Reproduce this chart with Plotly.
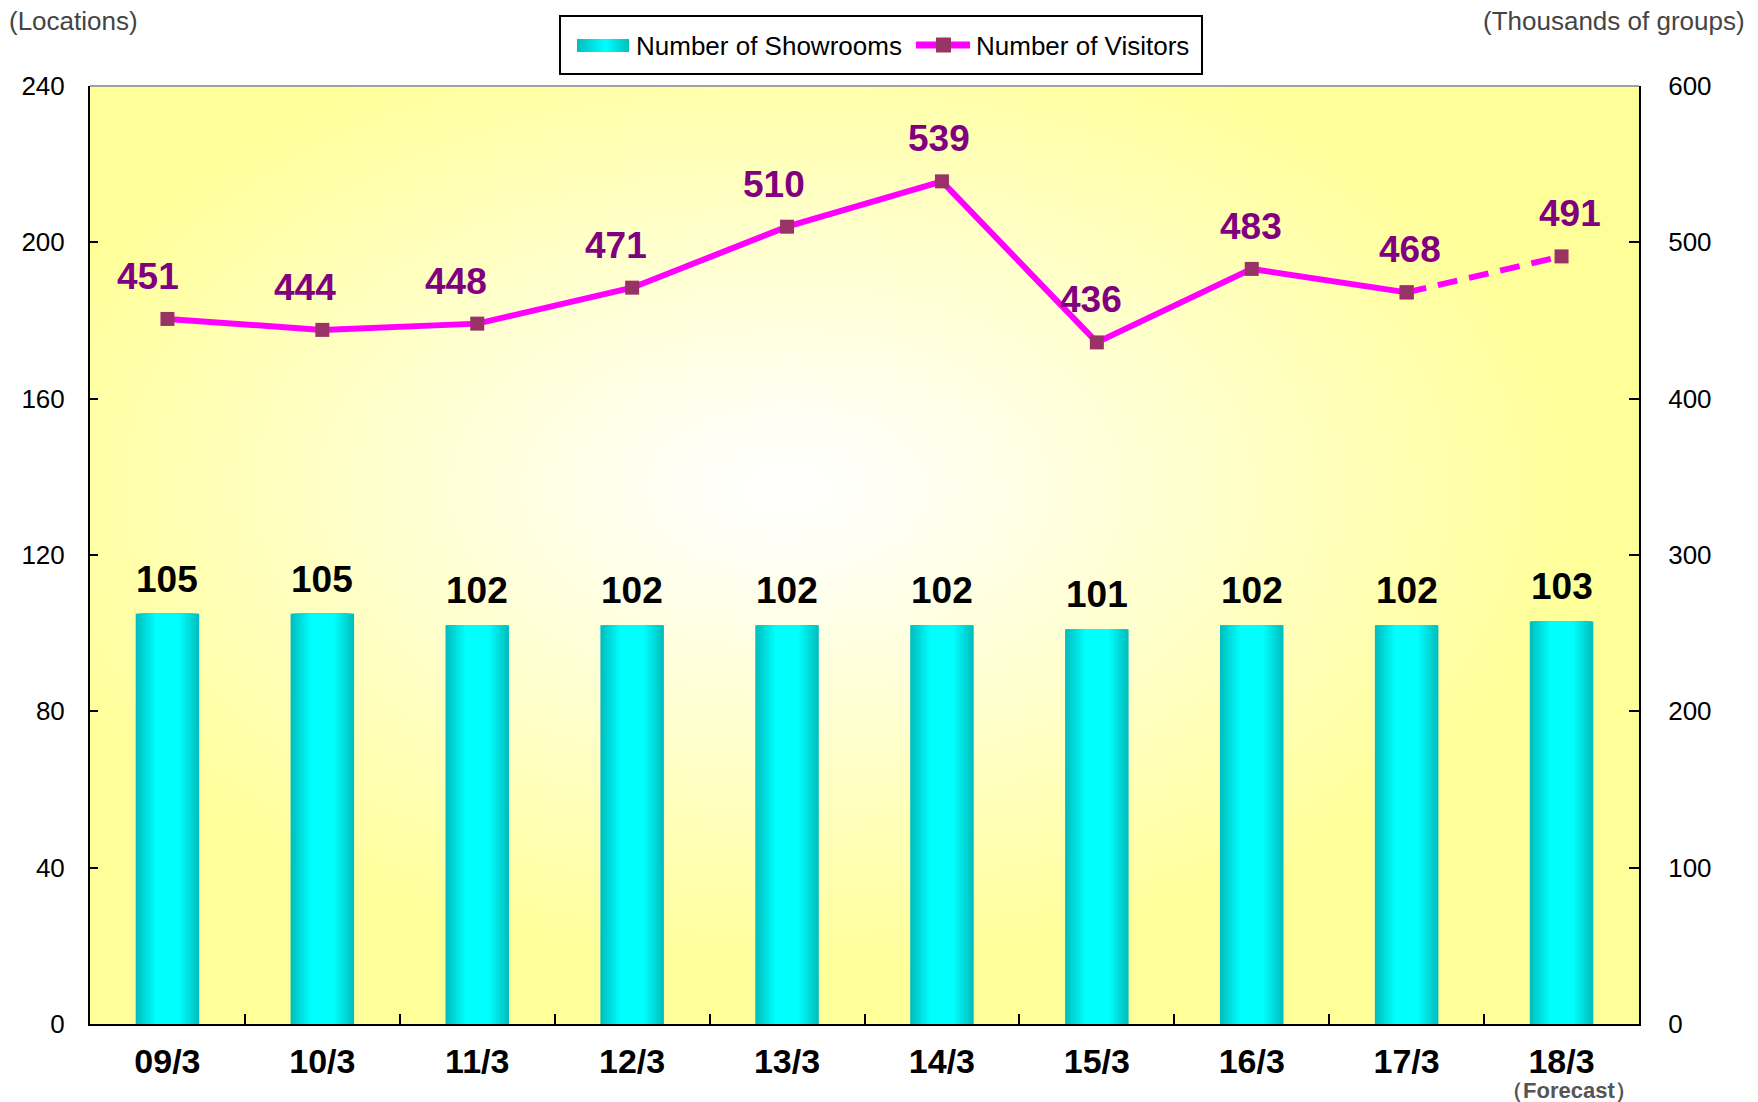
import base64
import plotly.graph_objects as go

# ---------------- data ----------------
periods = ["09/3", "10/3", "11/3", "12/3", "13/3", "14/3", "15/3", "16/3", "17/3", "18/3"]
showrooms = [105, 105, 102, 102, 102, 102, 101, 102, 102, 103]
visitors = [451, 444, 448, 471, 510, 539, 436, 483, 468, 491]
left_ticks = [0, 40, 80, 120, 160, 200, 240]
right_ticks = [0, 100, 200, 300, 400, 500, 600]
series_names = ["Number of Showrooms", "Number of Visitors"]
left_unit = "(Locations)"
right_unit = "(Thousands of groups)"
forecast_note = "（Forecast）"

# ---------------- styles / geometry ----------------
W, H = 1758, 1102
ML, MR, MT, MB = 90, 119, 86, 78
PW, PH = W - ML - MR, H - MT - MB
label_dx = [-19, -17, -21, -16, -13, -3, -6, -1, 3, 8]  # label pixel offsets (style)
TEAL = (0, 190, 190)
CYAN = (0, 255, 255)
BAR_W = 0.41
N_LAYERS = 16
FONT = "Liberation Sans, Arial, sans-serif"


def px(xp):
    return (xp - ML) / PW


def py(yp):
    return (H - MB - yp) / PH


fig = go.Figure()

# gradient bars (overlayed bar layers)
for k in range(N_LAYERS):
    t = k / (N_LAYERS - 1)
    frac = 1.0 - 0.62 * t
    c = tuple(round(a + (b - a) * t) for a, b in zip(TEAL, CYAN))
    fig.add_trace(go.Bar(
        x=periods, y=showrooms, width=BAR_W * frac,
        marker=dict(color="rgb(%d,%d,%d)" % c, line=dict(width=0)),
        name=series_names[0], showlegend=False, yaxis="y",
    ))

# visitor line: actual (solid) and forecast (dashed)
fig.add_trace(go.Scatter(
    x=periods[:-1], y=visitors[:-1], mode="lines+markers",
    line=dict(color="#FF00FF", width=6),
    marker=dict(symbol="square", size=14, color="#993366"),
    name=series_names[1], showlegend=False, yaxis="y2",
))
fig.add_trace(go.Scatter(
    x=periods[-2:], y=visitors[-2:], mode="lines+markers",
    line=dict(color="#FF00FF", width=6, dash="20px,12px"),
    marker=dict(symbol="square", size=14, color="#993366"),
    name=series_names[1], showlegend=False, yaxis="y2",
))

annotations = []
for p, v in zip(periods, showrooms):
    annotations.append(dict(
        x=p, y=v, xref="x", yref="y", text="<b>%d</b>" % v, showarrow=False,
        yanchor="bottom", yshift=12,
        font=dict(family=FONT, size=37, color="#000000"),
    ))
for p, v, dx in zip(periods, visitors, label_dx):
    annotations.append(dict(
        x=p, y=v, xref="x", yref="y2", text="<b>%d</b>" % v, showarrow=False,
        yanchor="bottom", yshift=20, xshift=dx,
        font=dict(family=FONT, size=37, color="#800080"),
    ))
annotations.append(dict(
    x=periods[-1], y=py(1090), xref="x", yref="paper", xshift=7,
    text="<b>%s</b>" % forecast_note, showarrow=False, yanchor="middle",
    font=dict(family=FONT, size=22, color="#555555"),
))
annotations.append(dict(
    x=px(7), y=py(21), xref="paper", yref="paper", xanchor="left", yanchor="middle",
    text=left_unit, showarrow=False,
    font=dict(family=FONT, size=26, color="#444444"),
))
annotations.append(dict(
    x=px(1747), y=py(21), xref="paper", yref="paper", xanchor="right", yanchor="middle",
    text=right_unit, showarrow=False,
    font=dict(family=FONT, size=26, color="#444444"),
))
# legend texts
annotations.append(dict(
    x=px(634), y=py(46), xref="paper", yref="paper", xanchor="left", yanchor="middle",
    text=series_names[0], showarrow=False, font=dict(family=FONT, size=26, color="black"),
))
annotations.append(dict(
    x=px(974), y=py(46), xref="paper", yref="paper", xanchor="left", yanchor="middle",
    text=series_names[1], showarrow=False, font=dict(family=FONT, size=26, color="black"),
))

# radial gradient background for plot area
svg = ('<svg xmlns="http://www.w3.org/2000/svg" width="1549" height="938" viewBox="0 0 1549 938" '
       'preserveAspectRatio="none"><defs><radialGradient id="g" cx="0.45" cy="0.43" r="0.52">'
       '<stop offset="0" stop-color="#FFFFFF"/><stop offset="0.15" stop-color="#FFFFF4"/>'
       '<stop offset="1" stop-color="#FFFF99"/></radialGradient></defs>'
       '<rect x="0" y="0" width="1549" height="938" fill="url(#g)"/></svg>')
svg_uri = "data:image/svg+xml;base64," + base64.b64encode(svg.encode()).decode()

# legend bar swatch gradient
sw = ('<svg xmlns="http://www.w3.org/2000/svg" width="52" height="13" viewBox="0 0 52 13" '
      'preserveAspectRatio="none"><defs><linearGradient id="s" x1="0" y1="0" x2="1" y2="0">'
      '<stop offset="0" stop-color="#00BEBE"/><stop offset="0.55" stop-color="#00FFFF"/>'
      '<stop offset="1" stop-color="#00BEBE"/></linearGradient></defs>'
      '<rect x="0" y="0" width="52" height="13" fill="url(#s)"/></svg>')
sw_uri = "data:image/svg+xml;base64," + base64.b64encode(sw.encode()).decode()

shapes = [
    dict(type="line", xref="paper", yref="paper", x0=0, x1=1, y0=1, y1=1,
         line=dict(color="#A0A0A0", width=2)),
    # custom legend
    dict(type="rect", xref="paper", yref="paper", x0=px(560), x1=px(1202), y0=py(16), y1=py(74),
         line=dict(color="black", width=2), fillcolor="rgba(0,0,0,0)", layer="above"),
    dict(type="line", xref="paper", yref="paper", x0=px(916), x1=px(970), y0=py(45), y1=py(45),
         line=dict(color="#FF00FF", width=7), layer="above"),
    dict(type="rect", xref="paper", yref="paper", x0=px(936), x1=px(951), y0=py(37.5), y1=py(52.5),
         line=dict(width=0), fillcolor="#993366", layer="above"),
]

fig.update_layout(
    width=W, height=H,
    margin=dict(l=ML, r=MR, t=MT, b=MB),
    paper_bgcolor="white", plot_bgcolor="#FFFF99",
    barmode="overlay",
    font=dict(family=FONT, color="#000000"),
    images=[
        dict(source=svg_uri, xref="paper", yref="paper", x=0, y=1, sizex=1, sizey=1,
             sizing="stretch", layer="below", xanchor="left", yanchor="top"),
        dict(source=sw_uri, xref="paper", yref="paper", x=px(577), y=py(39),
             sizex=px(629) - px(577), sizey=py(39) - py(52),
             sizing="stretch", layer="above", xanchor="left", yanchor="top"),
    ],
    xaxis=dict(
        type="category", tickson="boundaries", ticks="inside", ticklen=10, tickwidth=2,
        tickcolor="black", showline=True, linecolor="black", linewidth=2, showgrid=False,
        tickfont=dict(family=FONT, size=34, color="black", weight="bold"),
        ticklabelstandoff=6, range=[-0.5, 9.5],
    ),
    yaxis=dict(
        range=[0, 240], tickvals=left_ticks, ticks="inside", ticklen=8, tickwidth=2,
        tickcolor="black", showline=True, linecolor="black", linewidth=2, showgrid=False,
        zeroline=False, tickfont=dict(family=FONT, size=26, color="black"),
        ticklabelstandoff=18,
    ),
    yaxis2=dict(
        range=[0, 600], tickvals=right_ticks, overlaying="y", side="right", ticks="inside",
        ticklen=10, tickwidth=2, tickcolor="black", showline=True, linecolor="black",
        linewidth=2, showgrid=False, zeroline=False,
        tickfont=dict(family=FONT, size=26, color="black"), ticklabelstandoff=22,
    ),
    shapes=shapes,
    annotations=annotations,
    showlegend=False,
)

fig.write_html(
    "out.html",
    config={"displayModeBar": False},
    post_script="document.body.style.margin='0';document.body.style.overflow='hidden';",
)
